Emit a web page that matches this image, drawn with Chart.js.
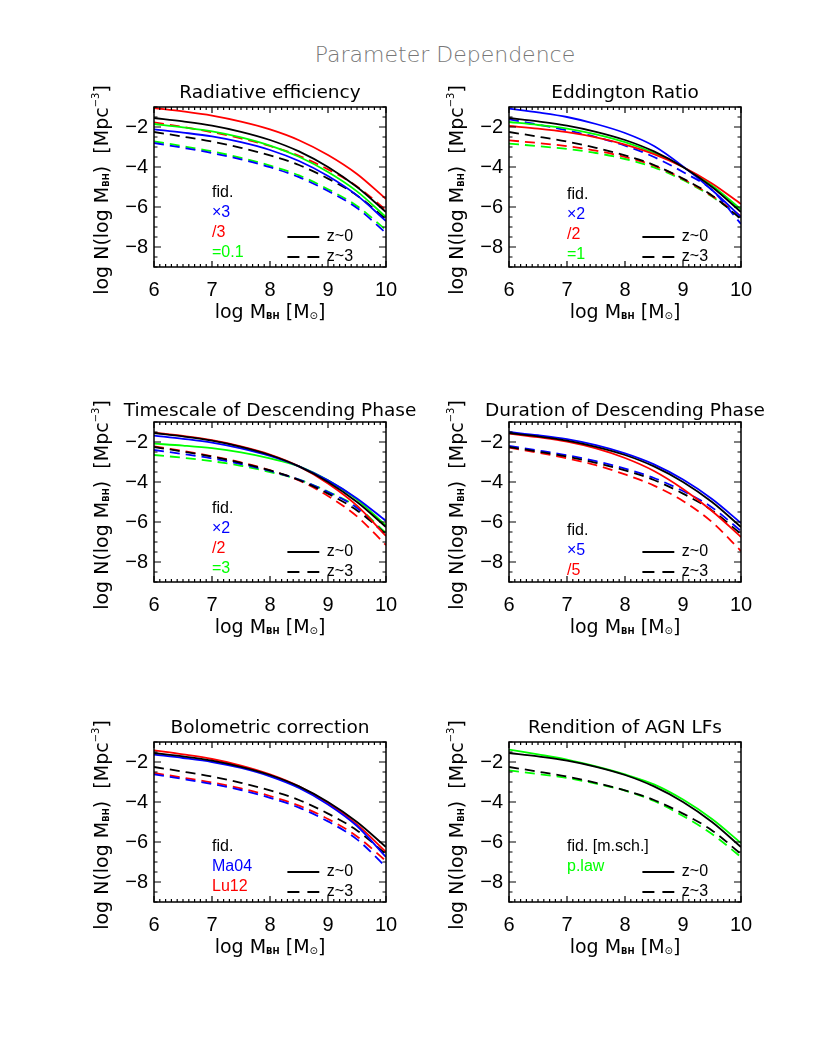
<!DOCTYPE html>
<html>
<head>
<meta charset="utf-8">
<title>Parameter Dependence</title>
<script src="https://cdn.jsdelivr.net/npm/chart.js@4.4.1/dist/chart.umd.min.js"></script>
<style>
  body { margin: 0; background: #fff; }
  #page { position: relative; width: 830px; height: 1039px; overflow: hidden; }
  #mainTitle {
    position: absolute; left: 245px; top: 44px; width: 400px;
    text-align: center; line-height: 22px; font-size: 22px;
    font-family: "DejaVu Sans ExtraLight", "DejaVu Sans", sans-serif; font-weight: 200;
    color: #777;
  }
  canvas { position: absolute; }
</style>
</head>
<body>
<div id="page">
  <div id="mainTitle">Parameter Dependence</div>
  <canvas id="p1" width="360" height="270" style="left:74px;top:67px"></canvas>
  <canvas id="p2" width="360" height="270" style="left:429px;top:67px"></canvas>
  <canvas id="p3" width="360" height="270" style="left:74px;top:382px"></canvas>
  <canvas id="p4" width="360" height="270" style="left:429px;top:382px"></canvas>
  <canvas id="p5" width="360" height="270" style="left:74px;top:702px"></canvas>
  <canvas id="p6" width="360" height="270" style="left:429px;top:702px"></canvas>
</div>
<script>
// axis values
const massGrid = [6, 6.5, 7, 7.5, 8, 8.5, 9, 9.5, 10];
const xTickValues = [6, 7, 8, 9, 10];
const yTickValues = [-8, -6, -4, -2];

// fiducial model (same in every panel)
const fidZ0 = [-1.55, -1.72, -1.93, -2.24, -2.65, -3.22, -4.0, -5.0, -6.25];
const fidZ3 = [-2.25, -2.48, -2.73, -3.04, -3.42, -3.9, -4.58, -5.42, -6.6];

// Radiative efficiency
const effX3Z0 = [-2.12, -2.28, -2.47, -2.76, -3.15, -3.7, -4.45, -5.42, -6.7];
const effDiv3Z0 = [-1.05, -1.22, -1.43, -1.73, -2.12, -2.66, -3.4, -4.35, -5.6];
const eff01Z0 = [-1.85, -2.02, -2.22, -2.52, -2.93, -3.49, -4.25, -5.22, -6.5];
const effX3Z3 = [-2.8, -3.04, -3.3, -3.62, -4.01, -4.51, -5.2, -6.05, -7.3];
const effDiv3Z3 = [-1.77, -2.0, -2.26, -2.57, -2.95, -3.44, -4.12, -4.97, -6.15];
const eff01Z3 = [-2.72, -2.96, -3.22, -3.54, -3.93, -4.42, -5.11, -5.95, -7.15];

// Eddington ratio
const eddX2Z0 = [-1.08, -1.27, -1.5, -1.85, -2.3, -2.95, -3.97, -5.15, -6.5];
const eddDiv2Z0 = [-1.95, -2.08, -2.26, -2.52, -2.88, -3.36, -4.0, -4.82, -5.85];
const edd1Z0 = [-1.75, -1.9, -2.08, -2.37, -2.76, -3.3, -4.0, -4.92, -6.12];
const eddX2Z3 = [-1.62, -1.88, -2.17, -2.5, -2.93, -3.5, -4.25, -5.15, -6.85];
const eddDiv2Z3 = [-2.67, -2.8, -2.96, -3.18, -3.5, -3.93, -4.6, -5.45, -6.45];
const edd1Z3 = [-2.83, -2.96, -3.1, -3.3, -3.6, -4.02, -4.65, -5.48, -6.5];

// Timescale of descending phase
const tauX2Z0 = [-1.68, -1.84, -2.03, -2.32, -2.7, -3.22, -3.92, -4.82, -5.95];
const tauDiv2Z0 = [-1.53, -1.7, -1.91, -2.22, -2.63, -3.22, -4.07, -5.18, -6.7];
const tau3Z0 = [-2.08, -2.18, -2.31, -2.52, -2.82, -3.22, -3.92, -4.88, -6.18];
const tauX2Z3 = [-2.4, -2.6, -2.82, -3.1, -3.45, -3.88, -4.5, -5.3, -6.65];
const tauDiv2Z3 = [-2.22, -2.45, -2.71, -3.02, -3.41, -3.92, -4.7, -5.72, -7.15];
const tau3Z3 = [-2.65, -2.79, -2.96, -3.19, -3.5, -3.88, -4.48, -5.25, -6.55];

// Duration of descending phase
const durX5Z0 = [-1.5, -1.66, -1.86, -2.16, -2.57, -3.12, -3.88, -4.85, -6.05];
const durDiv5Z0 = [-1.58, -1.76, -1.98, -2.32, -2.8, -3.45, -4.35, -5.45, -6.75];
const durX5Z3 = [-2.2, -2.42, -2.66, -2.96, -3.33, -3.8, -4.45, -5.27, -6.45];
const durDiv5Z3 = [-2.28, -2.53, -2.81, -3.16, -3.62, -4.18, -4.95, -6.0, -7.45];

// Bolometric correction
const bolMa04Z0 = [-1.63, -1.8, -2.0, -2.3, -2.72, -3.3, -4.12, -5.2, -6.75];
const bolLu12Z0 = [-1.42, -1.62, -1.85, -2.18, -2.62, -3.22, -4.05, -5.12, -6.5];
const bolMa04Z3 = [-2.62, -2.85, -3.1, -3.4, -3.79, -4.28, -4.97, -5.87, -7.25];
const bolLu12Z3 = [-2.55, -2.78, -3.02, -3.32, -3.7, -4.18, -4.85, -5.72, -6.95];

// Rendition of AGN LFs
const plawZ0 = [-1.38, -1.62, -1.88, -2.22, -2.62, -3.12, -3.88, -4.85, -6.05];
const plawZ3 = [-2.42, -2.6, -2.8, -3.08, -3.43, -3.95, -4.7, -5.6, -6.75];

const BLACK = '#000000', BLUE = '#0000ff', RED = '#ff0000', GREEN = '#00ff00';

function series(values, color, dashed) {
    return {
        data: massGrid.map((m, i) => ({ x: m, y: values[i] })),
        borderColor: color,
        borderWidth: 1.8,
        borderDash: dashed ? [10, 6] : [],
        pointRadius: 0,
        cubicInterpolationMode: 'monotone',
        fill: false
    };
}

// draw text made of pieces (for sub/superscripts), centred on x
function drawRich(ctx, parts, x, y, rotate) {
    ctx.save();
    ctx.translate(x, y);
    if (rotate) ctx.rotate(-Math.PI / 2);
    ctx.textAlign = 'left';
    ctx.textBaseline = 'alphabetic';
    ctx.fillStyle = '#000';
    let total = 0;
    parts.forEach(p => {
        ctx.font = (p.bold ? 'bold ' : '') + p.size + 'px "DejaVu Sans"';
        total += ctx.measureText(p.t).width;
    });
    let cx = -total / 2;
    parts.forEach(p => {
        ctx.font = (p.bold ? 'bold ' : '') + p.size + 'px "DejaVu Sans"';
        ctx.fillText(p.t, cx, p.dy || 0);
        cx += ctx.measureText(p.t).width;
    });
    ctx.restore();
}

const xTitle = [
    { t: 'log M', size: 19 },
    { t: 'BH', size: 8.5, bold: true, dy: 1 },
    { t: ' [M', size: 19 },
    { t: '\u2299', size: 10, dy: 1 },
    { t: ']', size: 19 }
];
const yTitle = [
    { t: 'log N(log M', size: 19 },
    { t: 'BH', size: 8.5, bold: true, dy: 1 },
    { t: ')  [Mpc', size: 19 },
    { t: '\u22123', size: 10, dy: -9 },
    { t: ']', size: 19 }
];

// frame, inside ticks, titles and in-plot labels
function decorPlugin(cfg) {
    return {
        id: 'panelDecor',
        afterDatasetsDraw(chart) {
            const { ctx, chartArea: a } = chart;
            const x = chart.scales.x, y = chart.scales.y;
            ctx.save();
            ctx.strokeStyle = '#000';
            ctx.lineWidth = 1.5;
            ctx.setLineDash([]);
            ctx.strokeRect(a.left, a.top, a.right - a.left, a.bottom - a.top);

            ctx.lineWidth = 1.2;
            ctx.beginPath();
            for (let i = 0; i <= 40; i++) {
                const px = x.getPixelForValue(6 + i * 0.1);
                const len = i % 10 === 0 ? 6 : 3;
                ctx.moveTo(px, a.bottom); ctx.lineTo(px, a.bottom - len);
                ctx.moveTo(px, a.top); ctx.lineTo(px, a.top + len);
            }
            for (let i = 0; i <= 16; i++) {
                const v = -9 + i * 0.5;
                const py = y.getPixelForValue(v);
                const len = yTickValues.includes(v) ? 7 : 3.5;
                ctx.moveTo(a.left, py); ctx.lineTo(a.left + len, py);
                ctx.moveTo(a.right, py); ctx.lineTo(a.right - len, py);
            }
            ctx.stroke();

            // panel title
            ctx.fillStyle = '#000';
            ctx.font = '18.5px "DejaVu Sans"';
            ctx.textAlign = 'center';
            ctx.textBaseline = 'alphabetic';
            ctx.fillText(cfg.title, (a.left + a.right) / 2, a.top - cfg.titleGap);

            // axis titles
            drawRich(ctx, xTitle, (a.left + a.right) / 2, a.bottom + 51, false);
            drawRich(ctx, yTitle, a.left - 46, (a.top + a.bottom) / 2 + 3, true);

            // model labels
            ctx.font = '16px "Liberation Sans"';
            ctx.textAlign = 'left';
            ctx.textBaseline = 'middle';
            cfg.items.forEach(([txt, color, yv]) => {
                ctx.fillStyle = color;
                ctx.fillText(txt, x.getPixelForValue(7.0), y.getPixelForValue(yv));
            });

            // redshift key
            ctx.strokeStyle = '#000';
            ctx.lineWidth = 2;
            const x0 = x.getPixelForValue(8.3), x1 = x.getPixelForValue(8.85);
            [[-7.5, [], 'z~0'], [-8.5, [12, 8], 'z~3']].forEach(([yv, dash, txt]) => {
                const py = y.getPixelForValue(yv);
                ctx.setLineDash(dash);
                ctx.beginPath();
                ctx.moveTo(x0, py); ctx.lineTo(x1, py);
                ctx.stroke();
                ctx.fillStyle = '#000';
                ctx.fillText(txt, x.getPixelForValue(8.98), py);
            });
            ctx.restore();
        }
    };
}

function makePanel(id, datasets, cfg) {
    new Chart(document.getElementById(id), {
        type: 'line',
        data: { datasets },
        options: {
            responsive: false,
            animation: false,
            events: [],
            layout: { padding: { left: 0, top: 40, right: 48, bottom: 0 } },
            plugins: { legend: { display: false }, tooltip: { enabled: false } },
            scales: {
                x: {
                    type: 'linear', min: 6, max: 10,
                    grid: { display: false, drawTicks: false },
                    border: { display: false },
                    afterBuildTicks: s => { s.ticks = xTickValues.map(v => ({ value: v })); },
                    afterFit: s => { s.height = 70; },
                    ticks: {
                        color: '#000', padding: 11, maxRotation: 0, autoSkip: false,
                        font: { family: 'Liberation Sans', size: 20 }
                    }
                },
                y: {
                    type: 'linear', min: -9, max: -1,
                    grid: { display: false, drawTicks: false },
                    border: { display: false },
                    afterBuildTicks: s => { s.ticks = yTickValues.map(v => ({ value: v })); },
                    afterFit: s => { s.width = 80; },
                    ticks: {
                        color: '#000', padding: 6, autoSkip: false,
                        font: { family: 'Liberation Sans', size: 20 },
                        callback: v => String(v).replace('-', '\u2212')
                    }
                }
            }
        },
        plugins: [decorPlugin(cfg)]
    });
}

makePanel('p1', [
    series(fidZ0, BLACK), series(effX3Z0, BLUE), series(effDiv3Z0, RED), series(eff01Z0, GREEN),
    series(fidZ3, BLACK, true), series(effX3Z3, BLUE, true), series(effDiv3Z3, RED, true), series(eff01Z3, GREEN, true)
], {
    title: 'Radiative efficiency', titleGap: 9,
    items: [['fid.', BLACK, -5.3], ['\u00d73', BLUE, -6.3], ['/3', RED, -7.3], ['=0.1', GREEN, -8.3]]
});

makePanel('p2', [
    series(fidZ0, BLACK), series(eddX2Z0, BLUE), series(eddDiv2Z0, RED), series(edd1Z0, GREEN),
    series(fidZ3, BLACK, true), series(eddX2Z3, BLUE, true), series(eddDiv2Z3, RED, true), series(edd1Z3, GREEN, true)
], {
    title: 'Eddington Ratio', titleGap: 9,
    items: [['fid.', BLACK, -5.4], ['\u00d72', BLUE, -6.4], ['/2', RED, -7.4], ['=1', GREEN, -8.4]]
});

makePanel('p3', [
    series(fidZ0, BLACK), series(tauX2Z0, BLUE), series(tauDiv2Z0, RED), series(tau3Z0, GREEN),
    series(fidZ3, BLACK, true), series(tauX2Z3, BLUE, true), series(tauDiv2Z3, RED, true), series(tau3Z3, GREEN, true)
], {
    title: 'Timescale of Descending Phase', titleGap: 6,
    items: [['fid.', BLACK, -5.35], ['\u00d72', BLUE, -6.35], ['/2', RED, -7.35], ['=3', GREEN, -8.35]]
});

makePanel('p4', [
    series(fidZ0, BLACK), series(durX5Z0, BLUE), series(durDiv5Z0, RED),
    series(fidZ3, BLACK, true), series(durX5Z3, BLUE, true), series(durDiv5Z3, RED, true)
], {
    title: 'Duration of Descending Phase', titleGap: 6,
    items: [['fid.', BLACK, -6.45], ['\u00d75', BLUE, -7.45], ['/5', RED, -8.45]]
});

makePanel('p5', [
    series(fidZ0, BLACK), series(bolMa04Z0, BLUE), series(bolLu12Z0, RED),
    series(fidZ3, BLACK, true), series(bolMa04Z3, BLUE, true), series(bolLu12Z3, RED, true)
], {
    title: 'Bolometric correction', titleGap: 9,
    items: [['fid.', BLACK, -6.25], ['Ma04', BLUE, -7.25], ['Lu12', RED, -8.25]]
});

makePanel('p6', [
    series(fidZ0, BLACK), series(plawZ0, GREEN),
    series(fidZ3, BLACK, true), series(plawZ3, GREEN, true)
], {
    title: 'Rendition of AGN LFs', titleGap: 9,
    items: [['fid. [m.sch.]', BLACK, -6.25], ['p.law', GREEN, -7.25]]
});
</script>
</body>
</html>
